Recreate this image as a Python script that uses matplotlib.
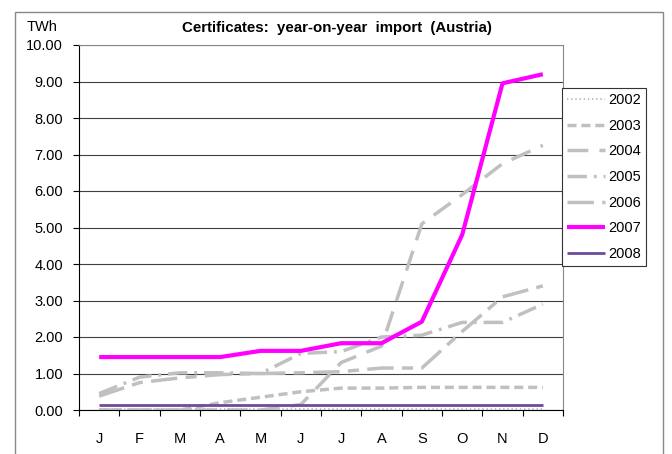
import numpy as np
import matplotlib
matplotlib.use("Agg")
import matplotlib.pyplot as plt
from matplotlib.patches import Rectangle

plt.rcParams['font.family'] = ['Liberation Sans', 'DejaVu Sans']
plt.rcParams['lines.scale_dashes'] = False

months = ['J', 'F', 'M', 'A', 'M', 'J', 'J', 'A', 'S', 'O', 'N', 'D']
years = ['2002', '2003', '2004', '2005', '2006', '2007', '2008']

y2002 = [0.02, 0.02, 0.02, 0.02, 0.02, 0.02, 0.02, 0.02, 0.02, 0.02, 0.02, 0.02]
y2003 = [0.0, 0.0, 0.0, 0.2, 0.35, 0.5, 0.6, 0.6, 0.62, 0.62, 0.62, 0.62]
y2004 = [0.0, 0.0, 0.0, 0.0, 0.0, 0.15, 1.3, 1.75, 5.1, 5.9, 6.75, 7.25]
y2005 = [0.45, 0.9, 1.02, 1.02, 1.0, 1.55, 1.6, 2.0, 2.05, 2.4, 2.4, 2.9]
y2006 = [0.38, 0.75, 0.88, 0.97, 1.0, 1.02, 1.05, 1.15, 1.15, 2.15, 3.1, 3.4]
y2007 = [1.45, 1.45, 1.45, 1.45, 1.62, 1.62, 1.83, 1.83, 2.42, 4.8, 8.95, 9.2]
y2008 = [0.15, 0.15, 0.15, 0.15, 0.15, 0.15, 0.15, 0.15, 0.15, 0.15, 0.15, 0.15]

W, H = 672, 454
fig = plt.figure(figsize=(W / 100, H / 100), dpi=100)
ax = fig.add_axes([79 / W, (H - 410) / H, (563 - 79) / W, (410 - 45) / H])

x = np.arange(len(months))
gray = '#c0c0c0'
# (values, colour, width, dash pattern in points)
styles = [
    (y2002, gray, 1.5, (0, (1.0, 2.0))),
    (y2003, gray, 2.5, (0, (6.5, 3.5))),
    (y2004, gray, 2.5, (0, (15, 8))),
    (y2005, gray, 2.5, (0, (14, 5, 2, 5))),
    (y2006, gray, 2.5, (0, (19, 6, 8, 6))),
    (y2007, '#ff00ff', 3.0, '-'),
    (y2008, '#6e4c9c', 2.0, '-'),
]
for (vals, col, lw, ls), lab in zip(styles, years):
    ax.plot(x, vals, color=col, lw=lw, linestyle=ls, label=lab,
            solid_capstyle='butt', dash_capstyle='butt')

ax.set_xlim(-0.5, 11.5)
ax.set_ylim(0, 10)
ax.set_yticks(np.arange(0, 11, 1))
ax.set_yticklabels([f'{v:.2f}' for v in range(11)], fontsize=10.5)
ax.tick_params(axis='y', length=4.5, width=0.8, pad=7, direction='out')
ax.set_xticks(x)
ax.set_xticklabels(months, fontsize=10.5)
ax.tick_params(axis='x', which='major', length=0, pad=16)
ax.set_xticks(np.arange(-0.5, 12, 1), minor=True)
ax.tick_params(axis='x', which='minor', length=4.5, width=0.8, direction='out')

ax.grid(axis='y', color='#404040', lw=0.8)
ax.set_axisbelow(True)
for s in ['top', 'right']:
    ax.spines[s].set_color('#888888')
for s in ['left', 'bottom']:
    ax.spines[s].set_color('black')
    ax.spines[s].set_linewidth(0.8)

fig.text(337 / W, 1 - 28 / H, 'Certificates:  year-on-year  import  (Austria)',
         ha='center', va='center', fontsize=10.8, fontweight='bold')
fig.text(27 / W, 1 - 27 / H, 'TWh', ha='left', va='center', fontsize=10.5)

leg = ax.legend(loc='upper left', bbox_to_anchor=(562 / W, 1 - 88 / H),
                bbox_transform=fig.transFigure, borderaxespad=0,
                fontsize=10.5, handlelength=2.6, handletextpad=0.2,
                labelspacing=0.8, borderpad=0.35, fancybox=False,
                framealpha=1, edgecolor='#333333')
leg.get_frame().set_linewidth(0.8)

# outer chart frame
fig.patches.append(Rectangle((15 / W, -0.05), (663 - 15) / W, 1.05 - 12 / H,
                             transform=fig.transFigure, fill=False,
                             edgecolor='#888888', lw=1))

fig.savefig('out.png', dpi=100)
